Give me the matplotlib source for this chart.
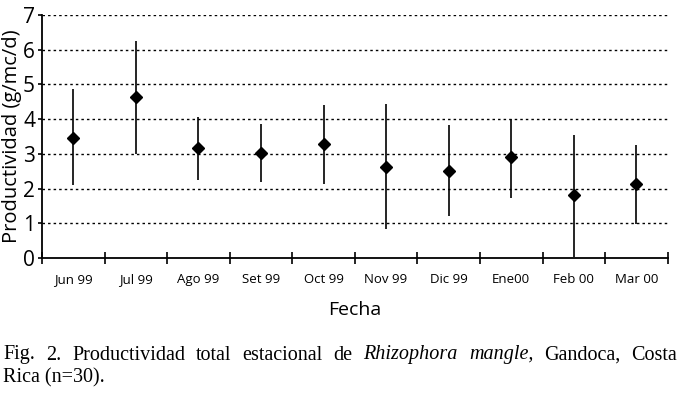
import numpy as np
import matplotlib
matplotlib.use("Agg")
import matplotlib.pyplot as plt

# ── DATA ──────────────────────────────────────────────────────────────────────
months = ["Jun 99", "Jul 99", "Ago 99", "Set 99", "Oct 99",
          "Nov 99", "Dic 99", "Ene00", "Feb 00", "Mar 00"]
mean_prod = [3.47, 4.65, 3.16, 3.02, 3.29, 2.63, 2.51, 2.90, 1.82, 2.12]
upper_bar = [4.86, 6.26, 4.05, 3.86, 4.40, 4.44, 3.82, 4.00, 3.55, 3.25]
lower_bar = [2.10, 2.99, 2.25, 2.19, 2.13, 0.83, 1.21, 1.74, 0.04, 0.98]
y_ticks = [0, 1, 2, 3, 4, 5, 6, 7]

SANS = "Open Sans"
SERIF = "Liberation Serif"
# ──────────────────────────────────────────────────────────────────────────────

fig = plt.figure(figsize=(6.8, 3.95), dpi=100)
ax = fig.add_axes([0.0618, 0.347, 0.920, 0.615])

x = np.arange(len(months))
mean_arr = np.array(mean_prod)
yerr = [mean_arr - np.array(lower_bar), np.array(upper_bar) - mean_arr]

ax.errorbar(x, mean_arr, yerr=yerr, fmt="D", color="black", ms=6.5,
            elinewidth=1.2, capsize=0, zorder=3)

ax.set_xlim(-0.5, len(months) - 0.5)
ax.set_ylim(0, 7)
ax.set_yticks(y_ticks)
ax.set_yticklabels([str(v) for v in y_ticks], fontfamily=SANS, fontsize=15)
for v in y_ticks[1:]:
    ax.axhline(v, color="black", lw=1.0, ls=(0, (1.8, 2.2)), zorder=1)

# category ticks sit on the boundaries, labels at the centres
ax.set_xticks(np.arange(len(months) + 1) - 0.5)
ax.set_xticklabels([])
ax.set_xticks(x, minor=True)
ax.set_xticklabels(months, minor=True, fontfamily=SANS, fontsize=9.5)
ax.tick_params(axis="x", which="major", direction="inout", length=8, width=1.2)
ax.tick_params(axis="x", which="minor", length=0, pad=11)
ax.tick_params(axis="y", direction="out", length=3, width=1.2, pad=2)

for side in ["top", "right"]:
    ax.spines[side].set_visible(False)
for side in ["left", "bottom"]:
    ax.spines[side].set_linewidth(1.3)

ax.set_ylabel("Productividad (g/mc/d)", fontfamily=SANS, fontsize=14.5, labelpad=1)
ax.set_xlabel("Fecha", fontfamily=SANS, fontsize=14, labelpad=11)

# ── caption, first line justified to the full width ──────────────────────────
words = [("Fig.", "normal"), ("2.", "normal"), ("Productividad", "normal"),
         ("total", "normal"), ("estacional", "normal"), ("de", "normal"),
         ("Rhizophora", "italic"), ("mangle,", "italic"), ("Gandoca,", "normal"),
         ("Costa", "normal")]
renderer = fig.canvas.get_renderer()
left_px, right_px = 3, 677
line1_y = 1 - 355 / 395
texts = []
for w, style in words:
    t = fig.text(0, line1_y, w, fontfamily=SERIF, fontsize=14.5, style=style,
                 va="center", ha="left")
    texts.append(t)
widths = [t.get_window_extent(renderer).width for t in texts]
gap = (right_px - left_px - sum(widths)) / (len(words) - 1)
pos = left_px
for t, wdt in zip(texts, widths):
    t.set_x(pos / 680)
    pos += wdt + gap
fig.text(3 / 680, 1 - 378 / 395, "Rica (n=30).", fontfamily=SERIF, fontsize=14.5,
         va="center", ha="left")

fig.savefig("out.png", dpi=100)
